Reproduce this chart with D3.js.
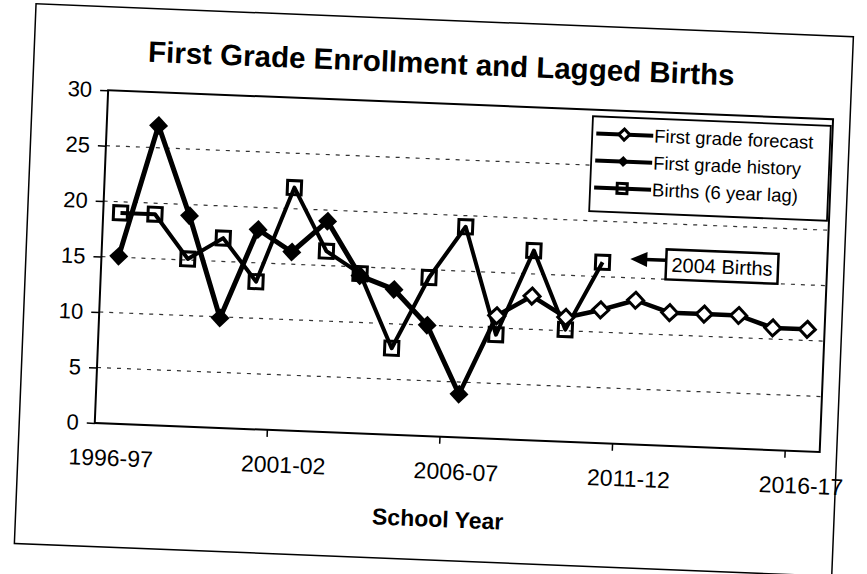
<!DOCTYPE html>
<html>
<head>
<meta charset="utf-8">
<title>First Grade Enrollment and Lagged Births</title>
<script src="https://d3js.org/d3.v7.min.js"></script>
<style>
  body { margin: 0; background: #fff; }
  svg { display: block; background: #fff; }
  text { font-family: "Liberation Sans", Arial, sans-serif; fill: #000; }
</style>
</head>
<body>
<svg width="867" height="574"></svg>
<script>
// school years on the category axis
var schoolYears = ["1996-97", "1997-98", "1998-99", "1999-00", "2000-01", "2001-02", "2002-03",
                   "2003-04", "2004-05", "2005-06", "2006-07", "2007-08", "2008-09", "2009-10",
                   "2010-11", "2011-12", "2012-13", "2013-14", "2014-15", "2015-16", "2016-17"];
var yearLabels = ["1996-97", "2001-02", "2006-07", "2011-12", "2016-17"];
var yTicks = [0, 5, 10, 15, 20, 25, 30];

// first grade history, 1996-97 .. 2006-07
var historyValues = [15.1, 27.0, 19.0, 9.9, 18.0, 16.1, 19.0, 14.2, 13.1, 10.0, 3.9];
// first grade forecast, starts at 2006-07
var forecastStart = "2006-07";
var forecastValues = [3.9, 11.1, 13.0, 11.2, 12.0, 13.0, 12.0, 12.0, 12.0, 11.0, 11.0];
// births (6 year lag), 1996-97 .. 2010-11
var birthValues = [19.0, 19.0, 15.1, 17.1, 13.3, 21.9, 16.3, 14.4, 7.8, 14.3, 19.0, 9.4, 17.1, 10.1, 16.3];

var legendLabels = ["First grade forecast", "First grade history", "Births (6 year lag)"];

var svg = d3.select("svg");
// the scanned page sits a little crooked
var page = svg.append("g").attr("transform", "rotate(2.3, 433, 287)");

var L = 100.5, R = 826, T = 103.4, B = 436.4;

var x = d3.scaleBand().domain(schoolYears).range([L, R]);
var y = d3.scaleLinear().domain([0, 30]).range([B, T]);
var cx = function (yr) { return x(yr) + x.bandwidth() / 2; };

// outer chart frame
page.append("rect")
    .attr("x", 25).attr("y", 20).attr("width", 818).attr("height", 540)
    .attr("fill", "none").attr("stroke", "#000").attr("stroke-width", 1.5);

// title
page.append("text")
    .attr("x", 139).attr("y", 73.5)
    .attr("font-size", 29.5).attr("font-weight", "bold")
    .text("First Grade Enrollment and Lagged Births");

// gridlines
page.append("g").selectAll("line")
    .data([5, 10, 15, 20, 25]).enter()
    .append("line")
    .attr("x1", L).attr("x2", R)
    .attr("y1", function (d) { return y(d); })
    .attr("y2", function (d) { return y(d); })
    .attr("stroke", "#000").attr("stroke-width", 1.2)
    .attr("stroke-dasharray", "4,6").attr("opacity", 0.8);

// plot border
page.append("rect")
    .attr("x", L).attr("y", T).attr("width", R - L).attr("height", B - T)
    .attr("fill", "none").attr("stroke", "#000").attr("stroke-width", 2);

// y axis
var yAxis = d3.axisLeft(y).tickValues(yTicks).tickSize(8).tickPadding(8);
var gy = page.append("g").attr("transform", "translate(" + L + ",0)").call(yAxis);
gy.select(".domain").remove();
gy.selectAll("line").attr("stroke", "#000").attr("stroke-width", 1.5);
gy.selectAll("text").attr("font-size", 22).attr("font-family", "Liberation Sans, Arial, sans-serif").attr("fill", "#000");

// x axis: labels on category centres, ticks between categories
var xAxis = d3.axisBottom(x).tickValues(yearLabels).tickSize(0).tickPadding(26);
var gx = page.append("g").attr("transform", "translate(0," + B + ")").call(xAxis);
gx.select(".domain").remove();
gx.selectAll("text").attr("font-size", 23).attr("font-family", "Liberation Sans, Arial, sans-serif").attr("fill", "#000");
page.append("g").selectAll("line")
    .data(yearLabels.slice(1)).enter()
    .append("line")
    .attr("x1", function (d) { return x(d); })
    .attr("x2", function (d) { return x(d); })
    .attr("y1", B).attr("y2", B + 7)
    .attr("stroke", "#000").attr("stroke-width", 1.5);

page.append("text")
    .attr("x", 447).attr("y", 526.6)
    .attr("text-anchor", "middle")
    .attr("font-size", 23).attr("font-weight", "bold")
    .text("School Year");

function diamond(s) {
    return "M0," + (-s) + "L" + s + ",0L0," + s + "L" + (-s) + ",0Z";
}

var line = d3.line()
    .x(function (d) { return cx(d.year); })
    .y(function (d) { return y(d.value); });

var birthPts = birthValues.map(function (v, i) { return { year: schoolYears[i], value: v }; });
var histPts = historyValues.map(function (v, i) { return { year: schoolYears[i], value: v }; });
var f0 = schoolYears.indexOf(forecastStart);
var forePts = forecastValues.map(function (v, i) { return { year: schoolYears[f0 + i], value: v }; });

// births
page.append("path").datum(birthPts)
    .attr("d", line).attr("fill", "none")
    .attr("stroke", "#000").attr("stroke-width", 4).attr("stroke-linejoin", "round");
page.append("g").selectAll("rect")
    .data(birthPts).enter()
    .append("rect")
    .attr("x", function (d) { return cx(d.year) - 7; })
    .attr("y", function (d) { return y(d.value) - 7; })
    .attr("width", 14).attr("height", 14)
    .attr("fill", "none").attr("stroke", "#000").attr("stroke-width", 3);

// forecast
page.append("path").datum(forePts)
    .attr("d", line).attr("fill", "none")
    .attr("stroke", "#000").attr("stroke-width", 4.5).attr("stroke-linejoin", "round");
page.append("g").selectAll("path")
    .data(forePts.slice(1)).enter()
    .append("path")
    .attr("transform", function (d) { return "translate(" + cx(d.year) + "," + y(d.value) + ")"; })
    .attr("d", diamond(8))
    .attr("fill", "#fff").attr("stroke", "#000").attr("stroke-width", 3);

// history
page.append("path").datum(histPts)
    .attr("d", line).attr("fill", "none")
    .attr("stroke", "#000").attr("stroke-width", 5).attr("stroke-linejoin", "round");
page.append("g").selectAll("path")
    .data(histPts).enter()
    .append("path")
    .attr("transform", function (d) { return "translate(" + cx(d.year) + "," + y(d.value) + ")"; })
    .attr("d", diamond(9.5))
    .attr("fill", "#000");

// legend
var lg = page.append("g");
lg.append("rect")
    .attr("x", 586).attr("y", 110).attr("width", 238).attr("height", 95)
    .attr("fill", "#fff").attr("stroke", "#000").attr("stroke-width", 1.8);
legendLabels.forEach(function (label, i) {
    var ry = 127 + i * 27;
    lg.append("line")
        .attr("x1", 590).attr("x2", 647).attr("y1", ry).attr("y2", ry)
        .attr("stroke", "#000").attr("stroke-width", 4);
    if (i < 2) {
        lg.append("path")
            .attr("transform", "translate(618," + ry + ")")
            .attr("d", diamond(5.5))
            .attr("fill", i === 0 ? "#fff" : "#000")
            .attr("stroke", "#000").attr("stroke-width", i === 0 ? 3 : 0);
    } else {
        lg.append("rect")
            .attr("x", 613).attr("y", ry - 5).attr("width", 10).attr("height", 10)
            .attr("fill", "none").attr("stroke", "#000").attr("stroke-width", 3);
    }
    lg.append("text")
        .attr("x", 648).attr("y", ry).attr("dy", "0.36em")
        .attr("font-size", 18.5)
        .text(label);
});

// annotation for the last births point
var note = page.append("g");
note.append("rect")
    .attr("x", 665).attr("y", 240).attr("width", 112).attr("height", 30)
    .attr("fill", "#fff").attr("stroke", "#000").attr("stroke-width", 2.5);
note.append("text")
    .attr("x", 721).attr("y", 255).attr("dy", "0.36em")
    .attr("text-anchor", "middle").attr("font-size", 20)
    .text("2004 Births");
note.append("line")
    .attr("x1", 644).attr("x2", 665).attr("y1", 251).attr("y2", 251)
    .attr("stroke", "#000").attr("stroke-width", 3.5);
note.append("path")
    .attr("d", "M629,251L646,243.5L646,258.5Z")
    .attr("fill", "#000");
</script>
</body>
</html>
